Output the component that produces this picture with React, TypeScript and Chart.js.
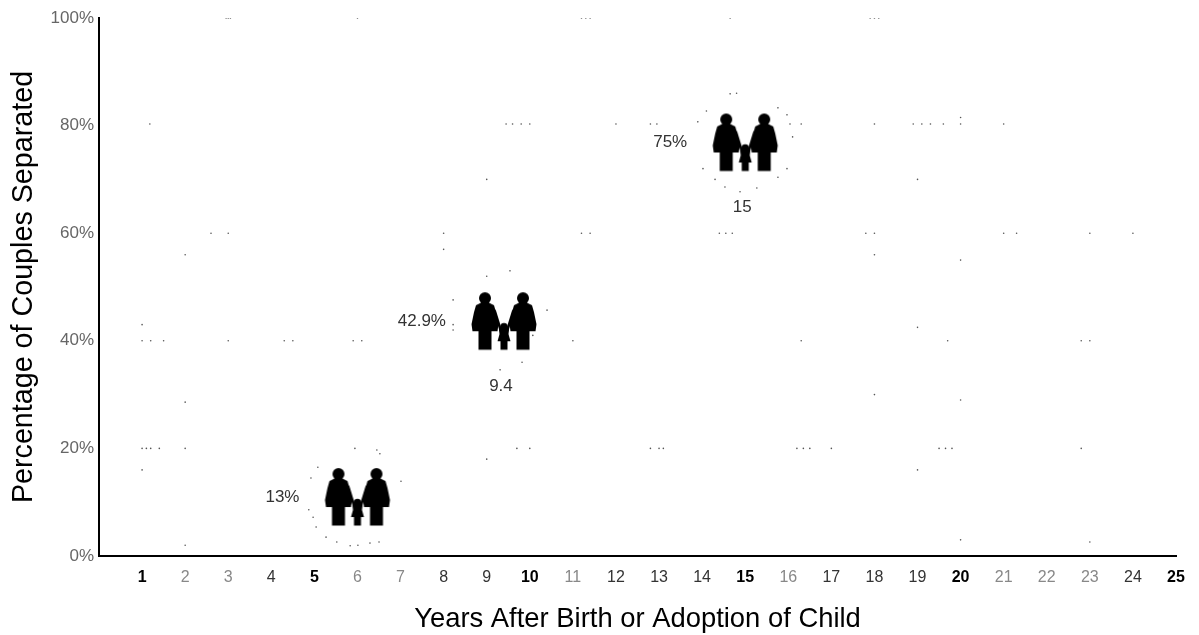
import React, { useEffect, useRef } from "react";
import { Chart, registerables } from "chart.js";

Chart.register(...registerables);

const yearsAfter = [6, 9.4, 15];
const percentSeparated = [13, 42.9, 75];
const percentLabels = ["13%", "42.9%", "75%"];
const yearLabels = ["", "9.4", "15"];
// The pictograms sit a little off their nominal values in the source.
const iconNudge = [11, -4, -10];

const boldYears = [1, 5, 10, 15, 20, 25];
const darkYears = [4, 8, 9, 12, 13, 14, 17, 18, 19, 24];

// Scan specks left in the source picture, as [year, percent].
const specks: number[][] = [
  [2.95, 100], [3, 100], [3.05, 100], [6, 100], [11.2, 100], [11.3, 100], [11.4, 100], [14.65, 100], [17.9, 100], [18, 100], [18.1, 100],
  [1.18, 80.3], [9.45, 80.3], [9.6, 80.3], [9.8, 80.3], [10, 80.3], [12, 80.3], [16.3, 80.3], [18, 80.3], [18.9, 80.3], [19.1, 80.3], [19.3, 80.3], [19.6, 80.3], [20, 81.5], [20, 80.3], [21, 80.3],
  [2.6, 60], [3, 60], [8, 60], [11.2, 60], [11.4, 60], [14.4, 60], [14.55, 60], [14.7, 60], [17.8, 60], [18, 60], [21, 60], [21.3, 60], [23, 60], [24, 60],
  [1, 40], [1.2, 40], [1.5, 40], [3, 40], [4.3, 40], [4.5, 40], [5.9, 40], [6.1, 40], [16.3, 40], [19.7, 40], [22.8, 40], [23, 40],
  [1, 20], [1.1, 20], [1.2, 20], [1.4, 20], [2, 20], [9.7, 20], [10, 20], [12.8, 20], [13, 20], [13.1, 20], [16.2, 20], [16.35, 20], [16.5, 20], [17, 20], [19.5, 20], [19.65, 20], [19.8, 20], [22.8, 20],
  [1, 43], [2, 56], [2, 28.6], [2, 2], [1, 16], [8, 57], [9, 70], [9, 18], [19, 70], [19, 42.5], [19, 16], [18, 56], [18, 30], [20, 55], [20, 29], [20, 3], [23, 2.6],
  [5.94, 20], [6.45, 19.7], [6.52, 19], [5.08, 16.5], [4.92, 14.5], [7.01, 13.9], [4.87, 8.6], [4.97, 7.2], [5.04, 5.4], [5.27, 3.5], [5.52, 2.6], [5.83, 1.9], [6.01, 2], [6.29, 2.4], [6.5, 2.6],
  [9, 52], [9.54, 53], [8.22, 47.6], [8.22, 43], [8.22, 42], [10.4, 45.7], [10.07, 41], [9.82, 36], [9.31, 34.6], [11, 40],
  [14.65, 85.9], [14.8, 86], [14.1, 82.7], [13.9, 80.7], [15.76, 83.3], [15.97, 82], [16.04, 80.3], [16.1, 77.9], [14.02, 72], [15.97, 72], [15.76, 70.4], [14.3, 70], [14.53, 68.6], [14.88, 67.7], [15.27, 68.4], [12.8, 80.3], [12.95, 80.3],
];

const FONT = '"Liberation Sans", Arial, sans-serif';

function makeIcon(nudge: number): HTMLCanvasElement {
  const c = document.createElement("canvas");
  c.width = 90;
  c.height = 100;
  const g = c.getContext("2d")!;
  g.translate(45, 50 + nudge);
  g.fillStyle = "#000";
  g.strokeStyle = "#000";
  g.lineJoin = "round";
  const woman = (cx: number) => {
    g.beginPath();
    g.arc(cx, -23, 6, 0, Math.PI * 2);
    g.fill();
    g.beginPath();
    const pts = [
      [-3, -19], [-9, -16], [-11, -9], [-13.5, 3], [-12.5, 10], [-6.5, 10], [-6.5, 28.5],
      [6.5, 28.5], [6.5, 10], [12.5, 10], [13.5, 3], [11, -9], [9, -16], [3, -19],
    ];
    pts.forEach(([x, y], i) => (i ? g.lineTo(cx + x, y) : g.moveTo(cx + x, y)));
    g.closePath();
    g.fill();
  };
  woman(-19);
  woman(19);
  g.beginPath();
  g.arc(0, 5.5, 3.8, 0, Math.PI * 2);
  g.fill();
  g.beginPath();
  const kid = [[-5, 8], [5, 8], [4.5, 13], [6.5, 20], [3.5, 20], [3.5, 28.5], [-3.5, 28.5], [-3.5, 20], [-6.5, 20], [-4.5, 13]];
  kid.forEach(([x, y], i) => (i ? g.lineTo(x, y) : g.moveTo(x, y)));
  g.closePath();
  g.fill();
  g.lineWidth = 2.6;
  g.beginPath();
  g.moveTo(-9.5, -11);
  g.lineTo(-3, 10);
  g.moveTo(9.5, -11);
  g.lineTo(3, 10);
  g.stroke();
  return c;
}

const pointLabels = {
  id: "pointLabels",
  afterDatasetsDraw(chart: any) {
    const { ctx } = chart;
    const pts = chart.getDatasetMeta(1).data;
    ctx.save();
    ctx.font = `17px ${FONT}`;
    ctx.fillStyle = "#333";
    ctx.textBaseline = "middle";
    pts.forEach((p: any, i: number) => {
      const cy = p.y + iconNudge[i];
      ctx.textAlign = "right";
      ctx.fillText(percentLabels[i], p.x - 58, cy);
      ctx.textAlign = "center";
      ctx.fillText(yearLabels[i], p.x - 3, cy + 65);
    });
    ctx.restore();
  },
};

export default function App() {
  const ref = useRef<HTMLCanvasElement>(null);
  useEffect(() => {
    const chart = new Chart(ref.current!, {
      type: "scatter",
      data: {
        datasets: [
          {
            label: "specks",
            data: specks.map(([x, y]) => ({ x, y })),
            pointRadius: 0.8,
            pointBackgroundColor: "#555",
            pointBorderWidth: 0,
          },
          {
            label: "Couples separated",
            data: yearsAfter.map((x, i) => ({ x, y: percentSeparated[i] })),
            pointStyle: iconNudge.map(makeIcon) as any,
            pointRadius: 40,
          },
        ],
      },
      plugins: [pointLabels],
      options: {
        animation: false,
        responsive: false,
        layout: { autoPadding: false, padding: { top: 18, right: 23, left: 0, bottom: 0 } },
        plugins: { legend: { display: false }, tooltip: { enabled: false } },
        scales: {
          x: {
            type: "linear",
            min: 0,
            max: 25,
            afterFit: (s: any) => { s.height = 79; },
            grid: { display: false, drawTicks: false },
            border: { color: "#000", width: 2 },
            ticks: {
              stepSize: 1,
              padding: 12,
              maxRotation: 0,
              autoSkip: false,
              callback: (v: any) => (v === 0 ? "" : String(v)),
              font: (c: any) => ({
                family: FONT,
                size: 16,
                weight: boldYears.includes(c.tick?.value) ? "bold" : "normal",
              }),
              color: (c: any) =>
                boldYears.includes(c.tick?.value) ? "#000" : darkYears.includes(c.tick?.value) ? "#333" : "#888",
            },
            title: {
              display: true,
              text: "Years After Birth or Adoption of Child",
              color: "#000",
              font: { family: FONT, size: 27.4 },
              padding: { top: 0, bottom: -1 },
            },
          },
          y: {
            min: 0,
            max: 100,
            afterFit: (s: any) => { s.width = 99; },
            grid: { display: false, drawTicks: false },
            border: { color: "#000", width: 2 },
            ticks: {
              stepSize: 20,
              padding: 5,
              callback: (v: any) => `${v}%`,
              color: "#666",
              font: { family: FONT, size: 17 },
            },
            title: {
              display: true,
              text: "Percentage of Couples Separated",
              color: "#000",
              font: { family: FONT, size: 28.7 },
              padding: { top: 7, bottom: 0 },
            },
          },
        },
      } as any,
    });
    return () => chart.destroy();
  }, []);
  return (
    <canvas
      ref={ref}
      width={1199}
      height={635}
      style={{ position: "absolute", left: 0, top: 0, display: "block", background: "#fff" }}
    />
  );
}
